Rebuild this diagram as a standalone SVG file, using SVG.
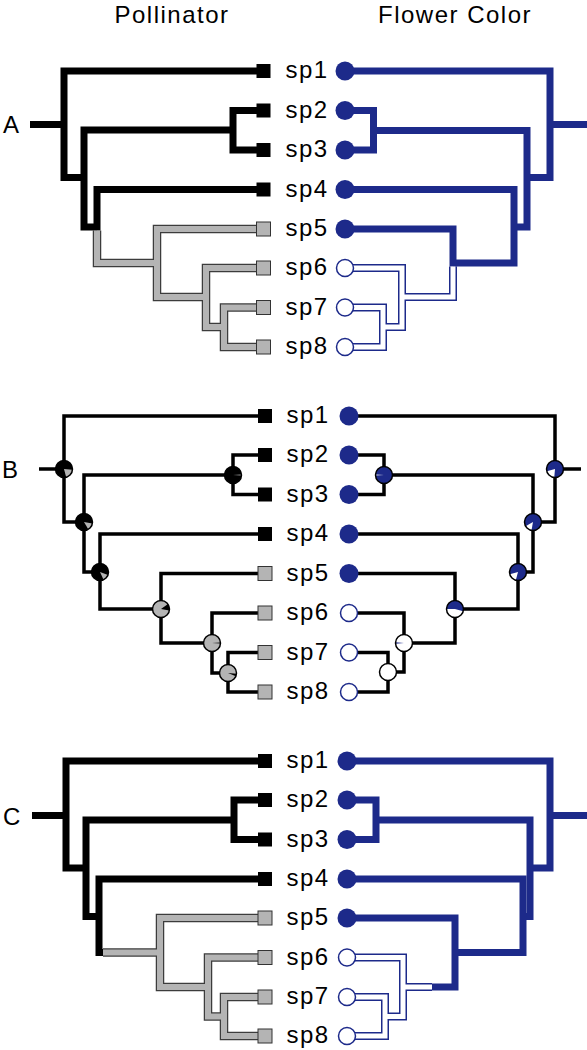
<svg xmlns="http://www.w3.org/2000/svg" width="587" height="1050" viewBox="0 0 587 1050">
<style>
text{font-family:"Liberation Sans",Arial,sans-serif;font-size:24px;letter-spacing:1.5px;fill:#000}
.sp{text-anchor:middle}
.k{fill:none;stroke:#000;stroke-width:7;stroke-linejoin:miter}
.b{fill:none;stroke:#1d2a8a;stroke-width:7;stroke-linejoin:miter}
.go{fill:none;stroke:#3c3c3c;stroke-width:8.5;stroke-linejoin:miter}
.gi{fill:none;stroke:#b4b4b4;stroke-width:6;stroke-linejoin:miter}
.wo{fill:none;stroke:#1d2a8a;stroke-width:8;stroke-linejoin:miter}
.wi{fill:none;stroke:#fff;stroke-width:5;stroke-linejoin:miter}
.t{fill:none;stroke:#000;stroke-width:3.5;stroke-linejoin:miter}
.sqk{fill:#000}
.sqg{fill:#b4b4b4;stroke:#333;stroke-width:1}
.cb{fill:#1d2a8a}
.cw{fill:#fff;stroke:#1d2a8a;stroke-width:1.5}
.pk{fill:#000}
.pg{fill:#b4b4b4}
.pb{fill:#1d2a8a}
.pw{fill:#fff}
.po{fill:none;stroke:#000;stroke-width:1.5}
</style>

<g id="titles">
<text x="172" y="23" text-anchor="middle">Pollinator</text>
<text x="455" y="23" text-anchor="middle">Flower Color</text>
</g>

<!-- ================= PANEL A ================= -->
<g id="panelA">
<text id="labelA" x="3" y="133">A</text>
<g id="A-connectors">
<path class="k" d="M258 71H64V177.5H84"/>
<path class="k" d="M30 124.5H64"/>
<path class="k" d="M233 130H84V227H97"/>
<path class="k" d="M258 110.5H233V150H258"/>
<path class="k" d="M258 189.5H97V230.5"/>
<g>
<path class="go" d="M97 230.5V263H157"/>
<path class="go" d="M258 229H157V297H206"/>
<path class="go" d="M258 268H206V327H224"/>
<path class="go" d="M258 307.5H224V347H258"/>
<path class="gi" d="M97 230.5V263H157"/>
<path class="gi" d="M258 229H157V297H206"/>
<path class="gi" d="M258 268H206V327H224"/>
<path class="gi" d="M258 307.5H224V347H258"/>
</g>
<path class="b" d="M345 71H550V177.5H527"/>
<path class="b" d="M550 124.5H587"/>
<path class="b" d="M373.5 130.5H527V227H514"/>
<path class="b" d="M345 110.5H373.5V150H345"/>
<path class="b" d="M345 189.5H514V263H453"/>
<path class="b" d="M345 229H453V266.5"/>
<g>
<path class="wo" d="M453 266.5V297H402"/>
<path class="wo" d="M345 268H402V327H383"/>
<path class="wo" d="M345 307.5H383V347H345"/>
<path class="wi" d="M453 266.5V297H402"/>
<path class="wi" d="M345 268H402V327H383"/>
<path class="wi" d="M345 307.5H383V347H345"/>
</g>
</g>
<g id="A-sp1"><rect class="sqk" x="256.5" y="64" width="14" height="14"/><text class="sp" x="307" y="78">sp1</text><circle class="cb" cx="345" cy="71" r="9.5"/></g>
<g id="A-sp2"><rect class="sqk" x="256.5" y="103.5" width="14" height="14"/><text class="sp" x="307" y="117.5">sp2</text><circle class="cb" cx="345" cy="110.5" r="9.5"/></g>
<g id="A-sp3"><rect class="sqk" x="256.5" y="143" width="14" height="14"/><text class="sp" x="307" y="157">sp3</text><circle class="cb" cx="345" cy="150" r="9.5"/></g>
<g id="A-sp4"><rect class="sqk" x="256.5" y="182.5" width="14" height="14"/><text class="sp" x="307" y="196.5">sp4</text><circle class="cb" cx="345" cy="189.5" r="9.5"/></g>
<g id="A-sp5"><rect class="sqg" x="256.5" y="222" width="14" height="14"/><text class="sp" x="307" y="236">sp5</text><circle class="cb" cx="345" cy="229" r="9.5"/></g>
<g id="A-sp6"><rect class="sqg" x="256.5" y="261" width="14" height="14"/><text class="sp" x="307" y="275">sp6</text><circle class="cw" cx="345" cy="268" r="8.5"/></g>
<g id="A-sp7"><rect class="sqg" x="256.5" y="300.5" width="14" height="14"/><text class="sp" x="307" y="314.5">sp7</text><circle class="cw" cx="345" cy="307.5" r="8.5"/></g>
<g id="A-sp8"><rect class="sqg" x="256.5" y="340" width="14" height="14"/><text class="sp" x="307" y="354">sp8</text><circle class="cw" cx="345" cy="347" r="8.5"/></g>
</g>

<!-- ================= PANEL B ================= -->
<g id="panelB">
<text id="labelB" x="2" y="478">B</text>
<g id="B-connectors">
<path class="t" d="M265 416H64V522H84"/>
<path class="t" d="M39 469H64"/>
<path class="t" d="M233 475H84V572H100"/>
<path class="t" d="M265 455H233V494.5H265"/>
<path class="t" d="M265 534H100V609H161"/>
<path class="t" d="M265 573.5H161V643H212"/>
<path class="t" d="M265 613H212V673H228"/>
<path class="t" d="M265 652.5H228V692H265"/>
<path class="t" d="M349 416H555V522H533"/>
<path class="t" d="M555 469H581"/>
<path class="t" d="M384 475H533V572H518"/>
<path class="t" d="M349 455H384V494.5H349"/>
<path class="t" d="M349 534H518V609H455"/>
<path class="t" d="M349 573.5H455V643H404"/>
<path class="t" d="M349 613H404V672H388"/>
<path class="t" d="M349 652.5H388V692H349"/>
</g>
<g id="B-L-root"><circle class="pk" cx="64" cy="469" r="8.5"/><path class="pg" d="M64 469L72.47 469.74A8.5 8.5 0 0 1 66.2 477.21Z"/><circle class="po" cx="64" cy="469" r="8.5"/></g>
<g id="B-L-n2"><circle class="pk" cx="84" cy="522" r="8.5"/><path class="pg" d="M84 522L92.37 523.48A8.5 8.5 0 0 1 88.25 529.36Z"/><circle class="po" cx="84" cy="522" r="8.5"/></g>
<g id="B-L-n4"><circle class="pk" cx="100" cy="572" r="8.5"/><path class="pg" d="M100 572L107.99 574.91A8.5 8.5 0 0 1 103.59 579.7Z"/><circle class="po" cx="100" cy="572" r="8.5"/></g>
<g id="B-L-n23"><circle class="pk" cx="233" cy="475" r="8.5"/><path class="pg" d="M233 475L241.48 474.41A8.5 8.5 0 0 1 241.48 475.59Z"/><circle class="po" cx="233" cy="475" r="8.5"/></g>
<g id="B-L-n5"><circle class="pg" cx="161" cy="609" r="8.5"/><path class="pk" d="M161 609L167.96 604.12A8.5 8.5 0 0 1 169.37 610.48Z"/><circle class="po" cx="161" cy="609" r="8.5"/></g>
<g id="B-L-n6"><circle class="pg" cx="212" cy="643" r="8.5"/><path class="pk" d="M212 643L220.49 642.56A8.5 8.5 0 0 1 220.49 643.44Z"/><circle class="po" cx="212" cy="643" r="8.5"/></g>
<g id="B-L-n78"><circle class="pg" cx="228" cy="673" r="8.5"/><path class="pk" d="M228 673L236.47 673.74A8.5 8.5 0 0 1 235.88 676.18Z"/><circle class="po" cx="228" cy="673" r="8.5"/></g>
<g id="B-R-root"><circle class="pb" cx="555" cy="469" r="8.5"/><path class="pw" d="M555 469L554.26 477.47A8.5 8.5 0 0 1 546.79 471.2Z"/><circle class="po" cx="555" cy="469" r="8.5"/></g>
<g id="B-R-n23"><circle class="pb" cx="384" cy="475" r="8.5"/><path class="pw" d="M384 475L375.52 475.59A8.5 8.5 0 0 1 375.52 474.41Z"/><circle class="po" cx="384" cy="475" r="8.5"/></g>
<g id="B-R-n2"><circle class="pb" cx="533" cy="522" r="8.5"/><path class="pw" d="M533 522L531.52 530.37A8.5 8.5 0 0 1 525.64 526.25Z"/><circle class="po" cx="533" cy="522" r="8.5"/></g>
<g id="B-R-n4"><circle class="pb" cx="518" cy="572" r="8.5"/><path class="pw" d="M518 572L515.8 580.21A8.5 8.5 0 0 1 509.79 574.2Z"/><circle class="po" cx="518" cy="572" r="8.5"/></g>
<g id="B-R-n5"><circle class="pb" cx="455" cy="609" r="8.5"/><path class="pw" d="M455 609L463.21 611.2A8.5 8.5 0 0 1 446.5 609Z"/><circle class="po" cx="455" cy="609" r="8.5"/></g>
<g id="B-R-n6"><circle class="pw" cx="404" cy="643" r="8.5"/><path class="pb" d="M404 643L395.53 643.74A8.5 8.5 0 0 1 395.53 642.26Z"/><circle class="po" cx="404" cy="643" r="8.5"/></g>
<g id="B-R-n78"><circle class="pw" cx="388" cy="672" r="8.5"/><circle class="po" cx="388" cy="672" r="8.5"/></g>
<g id="B-sp1"><rect class="sqk" x="258" y="409" width="14" height="14"/><text class="sp" x="308" y="423">sp1</text><circle class="cb" cx="349" cy="416" r="9.5"/></g>
<g id="B-sp2"><rect class="sqk" x="258" y="448" width="14" height="14"/><text class="sp" x="308" y="462">sp2</text><circle class="cb" cx="349" cy="455" r="9.5"/></g>
<g id="B-sp3"><rect class="sqk" x="258" y="487.5" width="14" height="14"/><text class="sp" x="308" y="501.5">sp3</text><circle class="cb" cx="349" cy="494.5" r="9.5"/></g>
<g id="B-sp4"><rect class="sqk" x="258" y="527" width="14" height="14"/><text class="sp" x="308" y="541">sp4</text><circle class="cb" cx="349" cy="534" r="9.5"/></g>
<g id="B-sp5"><rect class="sqg" x="258" y="566.5" width="14" height="14"/><text class="sp" x="308" y="580.5">sp5</text><circle class="cb" cx="349" cy="573.5" r="9.5"/></g>
<g id="B-sp6"><rect class="sqg" x="258" y="606" width="14" height="14"/><text class="sp" x="308" y="620">sp6</text><circle class="cw" cx="349" cy="613" r="8.5"/></g>
<g id="B-sp7"><rect class="sqg" x="258" y="645.5" width="14" height="14"/><text class="sp" x="308" y="659.5">sp7</text><circle class="cw" cx="349" cy="652.5" r="8.5"/></g>
<g id="B-sp8"><rect class="sqg" x="258" y="685" width="14" height="14"/><text class="sp" x="308" y="699">sp8</text><circle class="cw" cx="349" cy="692" r="8.5"/></g>
</g>

<!-- ================= PANEL C ================= -->
<g id="panelC">
<text id="labelC" x="3" y="825">C</text>
<g id="C-connectors">
<path class="k" d="M258 761H66V868H86"/>
<path class="k" d="M32 815.5H66"/>
<path class="k" d="M234 820H86V916.5H99"/>
<path class="k" d="M258 800H234V839.5H258"/>
<path class="k" d="M258 879H99V952.5H103"/>
<g>
<path class="go" d="M103 952.5H160"/>
<path class="go" d="M258 918H160V987H208"/>
<path class="go" d="M258 957.5H208V1016.5H224"/>
<path class="go" d="M258 997H224V1036H258"/>
<path class="gi" d="M103 952.5H160"/>
<path class="gi" d="M258 918H160V987H208"/>
<path class="gi" d="M258 957.5H208V1016.5H224"/>
<path class="gi" d="M258 997H224V1036H258"/>
</g>
<path class="b" d="M347 761H550V868H530"/>
<path class="b" d="M550 815.5H587"/>
<path class="b" d="M376 820H530V916.5H523"/>
<path class="b" d="M347 800H376V839.5H347"/>
<path class="b" d="M347 879H523V952.5H455"/>
<path class="b" d="M347 918H455V987H432"/>
<g>
<path class="wo" d="M432 987H403"/>
<path class="wo" d="M347 957.5H403V1016.5H385"/>
<path class="wo" d="M347 997H385V1036H347"/>
<path class="wi" d="M432 987H403"/>
<path class="wi" d="M347 957.5H403V1016.5H385"/>
<path class="wi" d="M347 997H385V1036H347"/>
</g>
</g>
<g id="C-sp1"><rect class="sqk" x="258" y="754" width="14" height="14"/><text class="sp" x="308" y="768">sp1</text><circle class="cb" cx="347" cy="761" r="9.5"/></g>
<g id="C-sp2"><rect class="sqk" x="258" y="793" width="14" height="14"/><text class="sp" x="308" y="807">sp2</text><circle class="cb" cx="347" cy="800" r="9.5"/></g>
<g id="C-sp3"><rect class="sqk" x="258" y="832.5" width="14" height="14"/><text class="sp" x="308" y="846.5">sp3</text><circle class="cb" cx="347" cy="839.5" r="9.5"/></g>
<g id="C-sp4"><rect class="sqk" x="258" y="872" width="14" height="14"/><text class="sp" x="308" y="886">sp4</text><circle class="cb" cx="347" cy="879" r="9.5"/></g>
<g id="C-sp5"><rect class="sqg" x="258" y="911" width="14" height="14"/><text class="sp" x="308" y="925">sp5</text><circle class="cb" cx="347" cy="918" r="9.5"/></g>
<g id="C-sp6"><rect class="sqg" x="258" y="950.5" width="14" height="14"/><text class="sp" x="308" y="964.5">sp6</text><circle class="cw" cx="347" cy="957.5" r="8.5"/></g>
<g id="C-sp7"><rect class="sqg" x="258" y="990" width="14" height="14"/><text class="sp" x="308" y="1004">sp7</text><circle class="cw" cx="347" cy="997" r="8.5"/></g>
<g id="C-sp8"><rect class="sqg" x="258" y="1029" width="14" height="14"/><text class="sp" x="308" y="1043">sp8</text><circle class="cw" cx="347" cy="1036" r="8.5"/></g>
</g>
</svg>
